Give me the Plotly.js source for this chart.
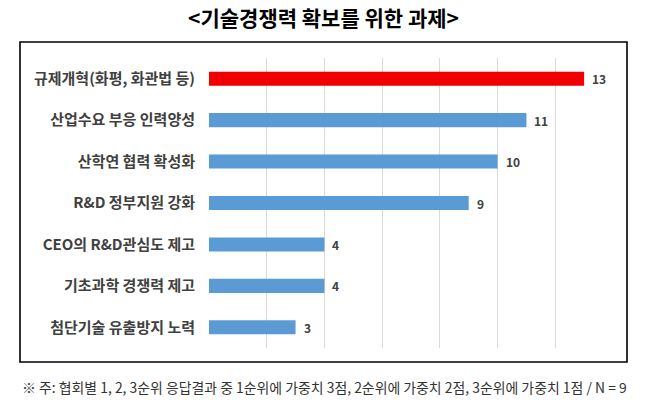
<!DOCTYPE html>
<html>
<head>
<meta charset="utf-8">
<script src="https://cdn.plot.ly/plotly-3.0.1.min.js"></script>
<style>html,body{margin:0;padding:0;background:#fff;}#chart{width:647px;height:404px;}</style>
</head>
<body>
<div id="chart"></div>
<script>
const categories = ['규제개혁(화평, 화관법 등)', '산업수요 부응 인력양성', '산학연 협력 확성화', 'R&D 정부지원 강화', 'CEO의 R&D관심도 제고', '기초과학 경쟁력 제고', '첨단기술 유출방지 노력'];
const values = [13, 11, 10, 9, 4, 4, 3];
const barColors = ['#F00000', '#5B9BD5', '#5B9BD5', '#5B9BD5', '#5B9BD5', '#5B9BD5', '#5B9BD5'];
const titleText = '&lt;기술경쟁력 확보를 위한 과제&gt;';
const noteText = '※ 주: 협회별 1, 2, 3순위 응답결과 중 1순위에 가중치 3점, 2순위에 가중치 2점, 3순위에 가중치 1점 / N = 9';

const W = 647, H = 404;
const L = 209, R = 613, T = 58, B = 348;
const pw = R - L, ph = B - T;
const px = x => (x - L) / pw;
const py = y => (B - y) / ph;

const kfont = '"Noto Sans CJK KR", "Noto Sans", sans-serif';

const trace = {
  type: 'bar',
  orientation: 'h',
  x: values,
  y: categories,
  marker: {color: barColors},
  hoverinfo: 'none'
};

const labelAnns = values.map((v, i) => ({
  x: v, y: categories[i], xref: 'x', yref: 'y',
  text: String(v), showarrow: false, xanchor: 'left', yanchor: 'middle', xshift: 6,
  font: {family: kfont, size: 12, color: '#404040', weight: 'bold'}
}));

const layout = {
  width: W, height: H,
  margin: {l: L, r: W - R, t: T, b: H - B, pad: 0},
  paper_bgcolor: '#ffffff',
  plot_bgcolor: '#ffffff',
  showlegend: false,
  bargap: 0.66,
  title: {
    text: titleText,
    x: 0.5, xref: 'container', xanchor: 'center',
    y: 1 - 19 / H, yref: 'container', yanchor: 'middle',
    font: {family: kfont, size: 21, color: '#000000', weight: 'bold'}
  },
  xaxis: {
    range: [0, 14], dtick: 2, tick0: 0,
    showgrid: true, gridcolor: '#D9D9D9', gridwidth: 1,
    zeroline: false, showticklabels: false, showline: false, fixedrange: true
  },
  yaxis: {
    autorange: 'reversed', showgrid: false, zeroline: false, showline: false,
    ticks: '', ticklabelstandoff: 13, automargin: false,
    tickfont: {family: kfont, size: 15, color: '#404040', weight: 'bold'}, fixedrange: true
  },
  shapes: [{
    type: 'rect', xref: 'paper', yref: 'paper',
    x0: px(20), x1: px(627), y0: py(362), y1: py(42),
    line: {color: '#000000', width: 1.6}, fillcolor: 'rgba(0,0,0,0)', layer: 'above'
  }],
  annotations: labelAnns.concat([{
    xref: 'paper', yref: 'paper', x: px(20), y: py(387),
    xanchor: 'left', yanchor: 'middle', showarrow: false,
    text: noteText,
    font: {family: kfont, size: 13.9, color: '#333333'}
  }])
};

Plotly.newPlot('chart', [trace], layout, {displayModeBar: false, staticPlot: true});
</script>
</body>
</html>
